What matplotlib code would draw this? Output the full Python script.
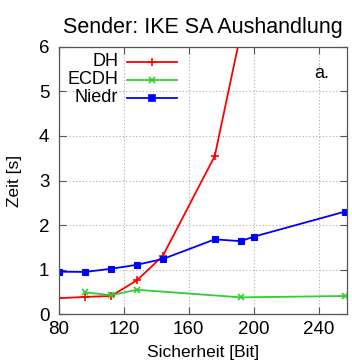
import matplotlib
matplotlib.use("Agg")
import matplotlib.pyplot as plt

# Security level [bit] and time [s]
dh_bits = [80, 96, 112, 128, 144, 176, 192]
dh_time = [0.36, 0.39, 0.41, 0.76, 1.31, 3.55, 6.30]

ecdh_bits = [96, 112, 128, 192, 256]
ecdh_time = [0.49, 0.43, 0.55, 0.38, 0.41]

niedr_bits = [80, 96, 112, 128, 144, 176, 192, 200, 256]
niedr_time = [0.955, 0.95, 1.02, 1.11, 1.24, 1.68, 1.64, 1.74, 2.30]

x_ticks = [80, 120, 160, 200, 240]
y_ticks = [0, 1, 2, 3, 4, 5, 6]

RED = "#ff0000"
GREEN = "#33cc33"
BLUE = "#0000ff"

plt.rcParams["font.family"] = ["Liberation Sans", "DejaVu Sans"]

fig = plt.figure(figsize=(3.52, 3.64), dpi=100)
# axes frame: left 59px, right 347px, top 46.7px, bottom 314.3px
ax = fig.add_axes([59 / 352, (364 - 314.3) / 364, 288 / 352, 267.6 / 364])

ax.plot(dh_bits, dh_time, color=RED, lw=1.3, marker="+", ms=6, mew=1.2)
ax.plot(ecdh_bits, ecdh_time, color=GREEN, lw=1.3, marker="x", ms=5, mew=1.2)
ax.plot(niedr_bits, niedr_time, color=BLUE, lw=1.3, marker="s", ms=5, mew=0.8)

ax.set_xlim(80, 257.5)
ax.set_ylim(0, 6)
ax.set_xticks(x_ticks)
ax.set_yticks(y_ticks)
ax.tick_params(direction="in", length=5, width=0.8, top=True, right=True,
               labelsize=13.5, color="#555555")
ax.tick_params(axis="y", pad=7)
ax.tick_params(axis="x", pad=5)
ax.grid(True, linestyle=(0, (1, 2)), color="#aaaaaa", lw=0.8)
for s in ax.spines.values():
    s.set_color("#555555")
    s.set_linewidth(0.9)

ax.set_xlabel("Sicherheit [Bit]", fontsize=12.5, labelpad=5)
ax.set_ylabel("Zeit [s]", fontsize=12.5, labelpad=12)
ax.set_title("Sender: IKE SA Aushandlung", fontsize=15.5, pad=10)

# gnuplot-style key: right-aligned label, then line sample
key = [("DH", RED, "+", 6), ("ECDH", GREEN, "x", 5), ("Niedr", BLUE, "s", 5)]
for i, (lab, col, mk, ms) in enumerate(key):
    y = 0.943 - i * 0.067
    ax.text(0.205, y, lab, transform=ax.transAxes, ha="right", va="center",
            fontsize=13)
    ax.plot([0.236, 0.41], [y, y], transform=ax.transAxes, color=col, lw=1.3,
            clip_on=False)
    ax.plot([0.323], [y], transform=ax.transAxes, color=col, marker=mk, ms=ms,
            mew=1.2, clip_on=False)

ax.text(0.913, 0.90, "a.", transform=ax.transAxes, ha="center", va="center",
        fontsize=13)

fig.savefig("out.png", dpi=100)
